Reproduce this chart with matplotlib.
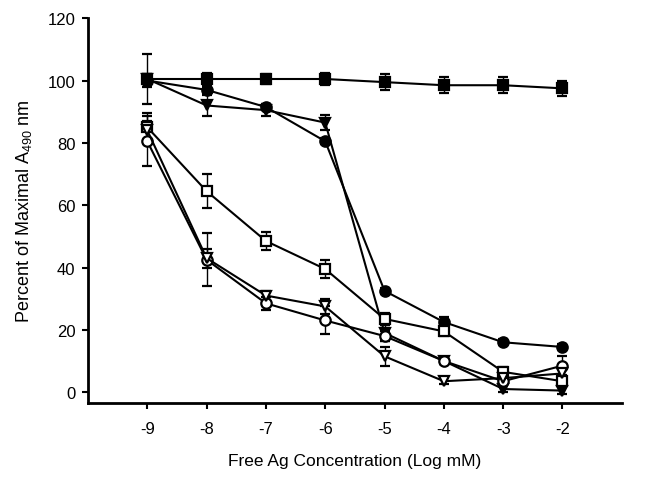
import numpy as np
import matplotlib
matplotlib.use("Agg")
import matplotlib.pyplot as plt

plt.rcParams['font.family'] = ['Liberation Sans', 'DejaVu Sans']
plt.rcParams['mathtext.default'] = 'regular'
plt.rcParams['axes.unicode_minus'] = False

# log concentration (mM)
x = [-9, -8, -7, -6, -5, -4, -3, -2]

# filled symbols
sq_f = [100.5, 100.5, 100.5, 100.5, 99.5, 98.5, 98.5, 97.5]
sq_f_err = [1.5, 2, 1.5, 2, 2.5, 2.5, 2.5, 2.5]
ci_f = [100.0, 97.0, 91.5, 80.5, 32.5, 22.5, 16.0, 14.5]
ci_f_err = [2, 1, 1, 1, 1, 1.5, 1, 1]
tr_f = [100.5, 92.0, 90.5, 86.5, 19.0, 10.0, 1.0, 0.5]
tr_f_err = [8, 3.5, 2, 2.5, 2.5, 1, 1, 1]

# open symbols
sq_o = [85.0, 64.5, 48.5, 39.5, 23.5, 19.5, 6.5, 3.5]
sq_o_err = [4.5, 5.5, 3, 3, 2, 1.5, 1.5, 1.5]
ci_o = [80.5, 42.5, 28.5, 23.0, 18.0, 10.0, 3.5, 8.5]
ci_o_err = [8, 8.5, 2, 4.5, 1.5, 1, 1, 3]
tr_o = [84.0, 43.0, 31.0, 27.5, 11.5, 3.5, 4.5, 6.0]
tr_o_err = [3, 3, 1.5, 2.5, 3, 1, 1, 1.5]

series = [
    (sq_f, sq_f_err, 's', 'black'),
    (ci_f, ci_f_err, 'o', 'black'),
    (tr_f, tr_f_err, 'v', 'black'),
    (sq_o, sq_o_err, 's', 'white'),
    (ci_o, ci_o_err, 'o', 'white'),
    (tr_o, tr_o_err, 'v', 'white'),
]

fig = plt.figure(figsize=(6.47, 4.81), dpi=100)
ax = fig.add_axes([0.136, 0.160, 0.825, 0.800])

for y, e, m, fc in series:
    ax.errorbar(x, y, yerr=e, color='black', marker=m, markerfacecolor=fc,
                markeredgecolor='black', markersize=7.5, markeredgewidth=1.6,
                linewidth=1.5, elinewidth=1, capsize=3.5, capthick=1)

ax.set_xlim(-10, -1)
ax.set_ylim(-3.5, 120)
ax.set_xticks(x)
ax.set_yticks(np.arange(0, 121, 20))
for s in ['top', 'right']:
    ax.spines[s].set_visible(False)
for s in ['left', 'bottom']:
    ax.spines[s].set_linewidth(2)
ax.tick_params(direction='out', length=4, width=1.5, labelsize=12)
ax.tick_params(axis='x', pad=9)
ax.tick_params(axis='y', pad=5)
ax.set_xlabel('Free Ag Concentration (Log mM)', fontsize=12.5, labelpad=12)
ax.set_ylabel('Percent of Maximal A$_{490}$ nm', fontsize=13, labelpad=10)

fig.savefig('out.png', dpi=100)
